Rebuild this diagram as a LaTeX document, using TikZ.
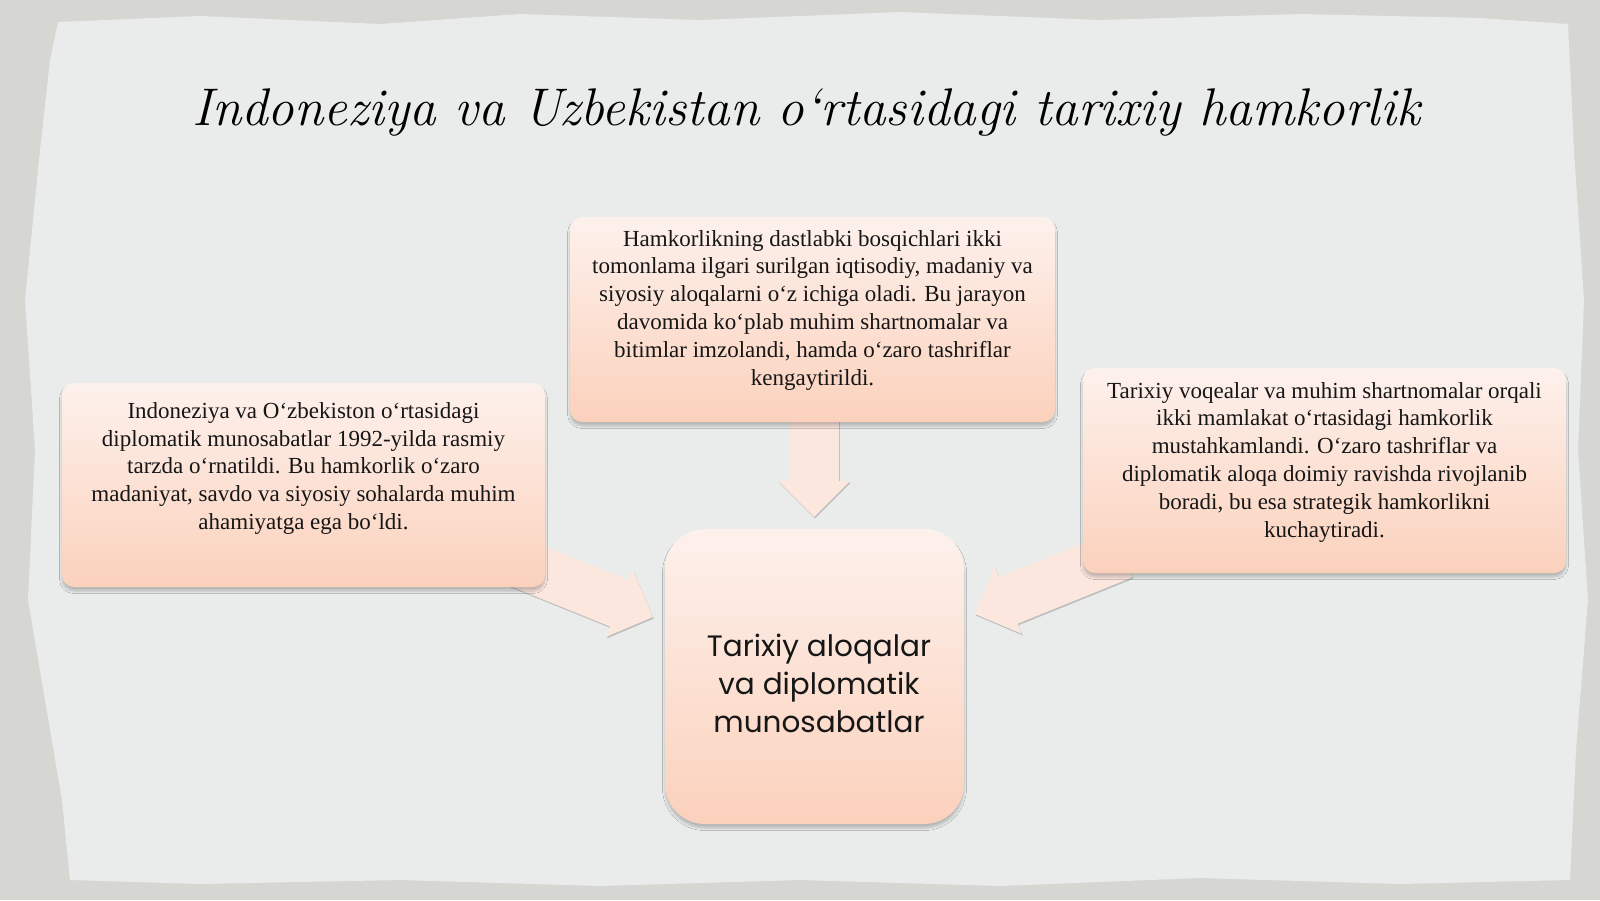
\documentclass[tikz,border=0pt]{standalone}
\usepackage{fontspec}
\newfontfamily\bodyfont{Liberation Serif}
\newfontfamily\ctrfont{Poppins}
\usetikzlibrary{shadows,shadows.blur,calc}
\definecolor{outergray}{RGB}{214,214,211}
\definecolor{paper}{RGB}{234,236,235}
\definecolor{boxtop}{RGB}{253,241,236}
\definecolor{boxbot}{RGB}{251,209,188}
\definecolor{arrfill}{RGB}{252,231,223}
\definecolor{inkc}{RGB}{22,22,22}
\newcommand\blockarr[2]{%
  \coordinate (ba-c) at ($(#2)!36pt!(#1)$);
  \fill[arrowshape] (#2) -- ($(ba-c)!36pt!90:(#2)$) -- ($(ba-c)!25pt!90:(#2)$)
    -- ($(#1)!25pt!90:(#2)$) -- ($(#1)!25pt!-90:(#2)$) -- ($(ba-c)!25pt!-90:(#2)$)
    -- ($(ba-c)!36pt!-90:(#2)$) -- cycle;}
\tikzset{
  tbox/.style={rectangle, rounded corners=12pt, top color=boxtop, bottom color=boxbot,
    draw=none, inner sep=0pt,
    blur shadow={shadow xshift=0pt, shadow yshift=-4pt, shadow blur steps=6, shadow blur radius=2.5pt, shadow opacity=22}},
  btext/.style={align=center, inner sep=0pt, font=\bodyfont\fontsize{23}{27.8}\selectfont, text=inkc},
  arrowshape/.style={fill=arrfill,
    drop shadow={shadow xshift=0.8pt, shadow yshift=-1.5pt, opacity=0.35, fill=black!60}},
}
\begin{document}
\begin{tikzpicture}[x=1pt,y=-1pt]
\useasboundingbox (0,0) rectangle (1600,900);
\fill[outergray] (0,0) rectangle (1600,900);
\fill[paper] (58,22) -- (200,16) -- (380,24) -- (520,14) -- (700,20) -- (900,12) -- (1100,20)
  -- (1300,14) -- (1480,18) -- (1568,24) -- (1574,150) -- (1584,300) -- (1578,450)
  -- (1588,600) -- (1576,750) -- (1570,880) -- (1400,884) -- (1200,878) -- (1000,886)
  -- (800,880) -- (600,886) -- (400,880) -- (200,884) -- (70,880) -- (62,800) -- (45,700)
  -- (28,600) -- (35,450) -- (25,300) -- (40,150) -- (50,60) -- cycle;
% title
\node[font=\itshape\fontsize{53}{60}\selectfont, text=black, anchor=base] (title) at (806,125)
  {Indoneziya va Uzbekistan o‘rtasidagi tarixiy hamkorlik};
% arrow anchors
\coordinate (la-s) at (514,560.7);
\coordinate (la-t) at (653,617);
\coordinate (ra-s) at (1123.3,554);
\coordinate (ra-t) at (975,614);
\coordinate (da-s) at (814,405);
\coordinate (da-t) at (814,517);
\blockarr{la-s}{la-t}
\blockarr{ra-s}{ra-t}
\blockarr{da-s}{da-t}
% boxes
\node[tbox, minimum width=483pt, minimum height=204pt] (lbox) at (303.5,485) {};
\node[tbox, minimum width=485pt, minimum height=205pt] (tbx) at (812.5,319.5) {};
\node[tbox, minimum width=483pt, minimum height=205pt] (rbox) at (1324.5,470.5) {};
\node[tbox, rounded corners=40pt, minimum width=299pt, minimum height=295pt] (cbox) at (814.5,676.5) {};
% texts (base anchor = last line)
\node[btext, anchor=base] (ltext) at (303.5,529.5) {Indoneziya va O‘zbekiston o‘rtasidagi\\
diplomatik munosabatlar 1992-yilda rasmiy\\
tarzda o‘rnatildi. Bu hamkorlik o‘zaro\\
madaniyat, savdo va siyosiy sohalarda muhim\\
ahamiyatga ega bo‘ldi.};
\node[btext, anchor=base] (ttext) at (812.5,385) {Hamkorlikning dastlabki bosqichlari ikki\\
tomonlama ilgari surilgan iqtisodiy, madaniy va\\
siyosiy aloqalarni o‘z ichiga oladi. Bu jarayon\\
davomida ko‘plab muhim shartnomalar va\\
bitimlar imzolandi, hamda o‘zaro tashriflar\\
kengaytirildi.};
\node[btext, anchor=base] (rtext) at (1324.5,537) {Tarixiy voqealar va muhim shartnomalar orqali\\
ikki mamlakat o‘rtasidagi hamkorlik\\
mustahkamlandi. O‘zaro tashriflar va\\
diplomatik aloqa doimiy ravishda rivojlanib\\
boradi, bu esa strategik hamkorlikni\\
kuchaytiradi.};
\node[align=center, inner sep=0pt, font=\ctrfont\fontsize{29.5}{38}\selectfont, text=inkc] (ctext) at (819,683)
  {Tarixiy aloqalar\\va diplomatik\\munosabatlar};
\end{tikzpicture}
\end{document}
